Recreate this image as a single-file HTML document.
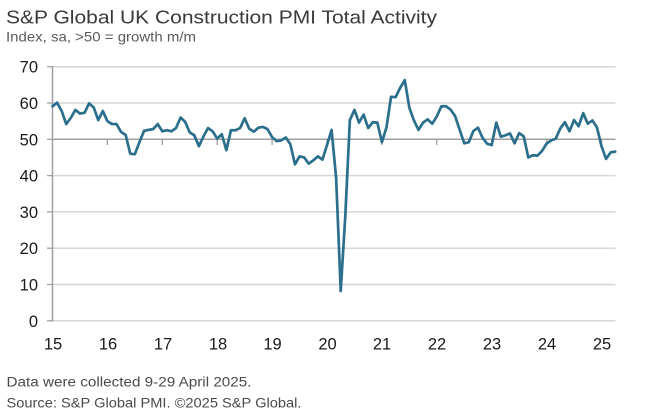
<!DOCTYPE html>
<html>
<head>
<meta charset="utf-8">
<style>
html,body{margin:0;padding:0;background:#fff;}
svg{display:block;}
text{font-family:"Liberation Sans",Arial,sans-serif;}
</style>
</head>
<body>
<svg width="646" height="420" viewBox="0 0 646 420" xmlns="http://www.w3.org/2000/svg">
<rect width="646" height="420" fill="#fff"/>
<text x="6" y="23.3" font-size="18.5" fill="#3a3a3a" textLength="431" lengthAdjust="spacingAndGlyphs">S&amp;P Global UK Construction PMI Total Activity</text>
<text x="6" y="41.7" font-size="14" fill="#5a5a5a" textLength="190" lengthAdjust="spacingAndGlyphs">Index, sa, &gt;50 = growth m/m</text>

<!-- gridlines -->
<g stroke="#d6d6d6" stroke-width="1.5">
<line x1="52.5" x2="615.5" y1="66.7" y2="66.7"/>
<line x1="52.5" x2="615.5" y1="103" y2="103"/>
<line x1="52.5" x2="615.5" y1="175.6" y2="175.6"/>
<line x1="52.5" x2="615.5" y1="211.9" y2="211.9"/>
<line x1="52.5" x2="615.5" y1="248.2" y2="248.2"/>
<line x1="52.5" x2="615.5" y1="284.5" y2="284.5"/>
<line x1="52.5" x2="615.5" y1="320.8" y2="320.8"/>
</g>
<!-- 50 axis line -->
<line x1="52.5" x2="615.5" y1="139.3" y2="139.3" stroke="#a0a0a0" stroke-width="1.5"/>
<!-- x ticks -->
<g stroke="#a0a0a0" stroke-width="1.3">
<line x1="107.4" x2="107.4" y1="139.3" y2="145"/>
<line x1="162.3" x2="162.3" y1="139.3" y2="145"/>
<line x1="217.2" x2="217.2" y1="139.3" y2="145"/>
<line x1="272.1" x2="272.1" y1="139.3" y2="145"/>
<line x1="327" x2="327" y1="139.3" y2="145"/>
<line x1="381.9" x2="381.9" y1="139.3" y2="145"/>
<line x1="436.8" x2="436.8" y1="139.3" y2="145"/>
<line x1="491.7" x2="491.7" y1="139.3" y2="145"/>
<line x1="546.6" x2="546.6" y1="139.3" y2="145"/>
<line x1="601.5" x2="601.5" y1="139.3" y2="145"/>
</g>
<!-- left axis -->
<line x1="52.5" x2="52.5" y1="66" y2="321.5" stroke="#a0a0a0" stroke-width="1.5"/>
<g stroke="#a0a0a0" stroke-width="1.3">
<line x1="47" x2="52.5" y1="66.7" y2="66.7"/>
<line x1="47" x2="52.5" y1="103" y2="103"/>
<line x1="47" x2="52.5" y1="139.3" y2="139.3"/>
<line x1="47" x2="52.5" y1="175.6" y2="175.6"/>
<line x1="47" x2="52.5" y1="211.9" y2="211.9"/>
<line x1="47" x2="52.5" y1="248.2" y2="248.2"/>
<line x1="47" x2="52.5" y1="284.5" y2="284.5"/>
<line x1="47" x2="52.5" y1="320.8" y2="320.8"/>
</g>

<!-- y labels -->
<g font-size="16.5" fill="#1a1a1a" text-anchor="end">
<text x="38" y="72.7">70</text>
<text x="38" y="109">60</text>
<text x="38" y="145.3">50</text>
<text x="38" y="181.6">40</text>
<text x="38" y="217.9">30</text>
<text x="38" y="254.2">20</text>
<text x="38" y="290.5">10</text>
<text x="38" y="326.8">0</text>
</g>
<!-- x labels -->
<g font-size="16.5" fill="#1a1a1a" text-anchor="middle">
<text x="53" y="349.3">15</text>
<text x="108" y="349.3">16</text>
<text x="163" y="349.3">17</text>
<text x="218" y="349.3">18</text>
<text x="272.5" y="349.3">19</text>
<text x="327.5" y="349.3">20</text>
<text x="382" y="349.3">21</text>
<text x="437" y="349.3">22</text>
<text x="492" y="349.3">23</text>
<text x="547" y="349.3">24</text>
<text x="602" y="349.3">25</text>
</g>

<!-- series -->
<g transform="translate(52.5,320.8) scale(4.575,-3.63)">
<polyline fill="none" stroke="#2b6f8c" stroke-width="2.7" vector-effect="non-scaling-stroke" stroke-linejoin="round" stroke-linecap="round"
points="0,59.1 1,60.1 2,57.8 3,54.2 4,55.9 5,58.1 6,57.1 7,57.3 8,59.9 9,58.8 10,55.3 11,57.8
12,55.0 13,54.2 14,54.2 15,52.0 16,51.2 17,46.0 18,45.9 19,49.2 20,52.3 21,52.6 22,52.8 23,54.2
24,52.2 25,52.5 26,52.2 27,53.1 28,56.0 29,54.8 30,51.9 31,51.1 32,48.1 33,50.8 34,53.1 35,52.2
36,50.2 37,51.4 38,47.0 39,52.5 40,52.5 41,53.1 42,55.8 43,52.9 44,52.1 45,53.2 46,53.4 47,52.8
48,50.6 49,49.5 50,49.7 51,50.5 52,48.6 53,43.1 54,45.3 55,45.0 56,43.3 57,44.2 58,45.3 59,44.4
60,48.4 61,52.6 62,39.3 63,8.2 64,28.9 65,55.3 66,58.1 67,54.6 68,56.8 69,53.1 70,54.7 71,54.6
72,49.2 73,53.3 74,61.7 75,61.6 76,64.2 77,66.3 78,58.7 79,55.2 80,52.6 81,54.6 82,55.5 83,54.3
84,56.3 85,59.1 86,59.1 87,58.2 88,56.4 89,52.6 90,48.9 91,49.2 92,52.3 93,53.2 94,50.4 95,48.8
96,48.4 97,54.6 98,50.7 99,51.1 100,51.6 101,48.9 102,51.7 103,50.8 104,45.0 105,45.6 106,45.5 107,46.8
108,48.8 109,49.7 110,50.2 111,53.0 112,54.7 113,52.2 114,55.3 115,53.6 116,57.2 117,54.3 118,55.2 119,53.3
120,48.1 121,44.6 122,46.4 123,46.6"/>
</g>

<!-- footer -->
<text x="6.5" y="386.7" font-size="13.5" fill="#4a4a4a" textLength="245" lengthAdjust="spacingAndGlyphs">Data were collected 9-29 April 2025.</text>
<text x="6.5" y="407.7" font-size="13.5" fill="#4a4a4a" textLength="295" lengthAdjust="spacingAndGlyphs">Source: S&amp;P Global PMI. ©2025 S&amp;P Global.</text>
</svg>
</body>
</html>
